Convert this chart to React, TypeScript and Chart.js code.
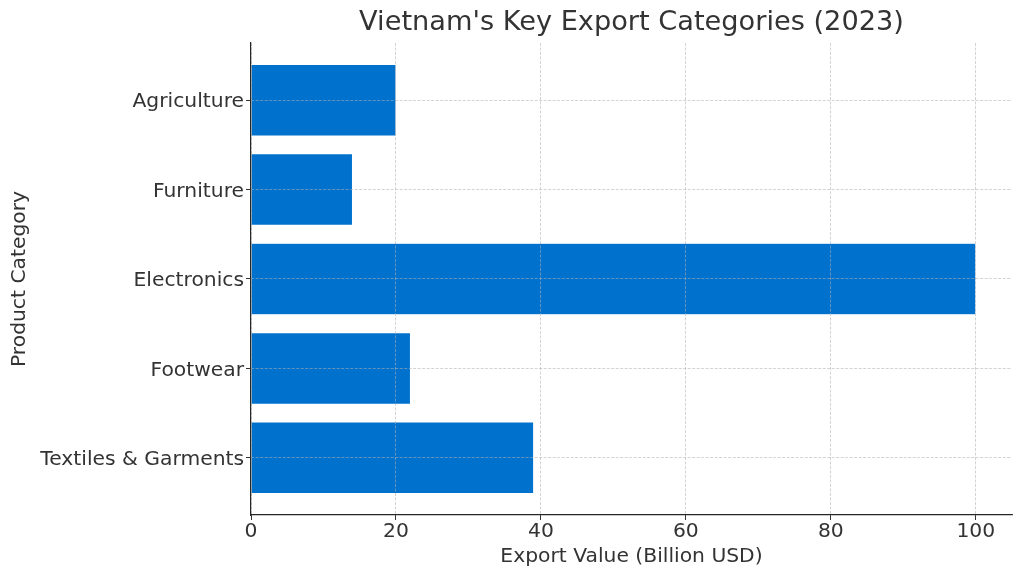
import React, { useEffect, useRef } from "react";
import { Chart, registerables } from "chart.js";

Chart.register(...registerables);

const categories = ["Textiles & Garments", "Footwear", "Electronics", "Furniture", "Agriculture"];
const exportValues = [39, 22, 100, 14, 20];
const xTicks = [0, 20, 40, 60, 80, 100];

const TITLE = "Vietnam's Key Export Categories (2023)";
const FONT = "'DejaVu Sans', sans-serif";
const TEXT = "#333333";
const GRID = "rgba(176,176,176,0.7)";

const titlePlugin = {
  id: "centerTitle",
  afterDraw(chart: any) {
    const { ctx, chartArea } = chart;
    ctx.save();
    ctx.font = `27.2px ${FONT}`;
    ctx.fillStyle = TEXT;
    ctx.textAlign = "center";
    ctx.textBaseline = "middle";
    ctx.fillText(TITLE, (chartArea.left + chartArea.right) / 2, 23);
    ctx.restore();
  },
};

export default function App() {
  const ref = useRef<HTMLCanvasElement | null>(null);
  useEffect(() => {
    if (!ref.current) return;
    const chart = new Chart(ref.current, {
      type: "bar",
      data: {
        datasets: [
          {
            data: exportValues.map((v, i) => ({ x: v, y: i })),
            backgroundColor: "#0072CE",
            borderColor: "rgba(255,255,255,0.5)",
            borderWidth: 0.5,
            barPercentage: 0.8,
            categoryPercentage: 1,
          },
        ],
      },
      options: {
        indexAxis: "y",
        animation: false,
        responsive: false,
        layout: { padding: { top: 43, right: 12, left: 0, bottom: 0 } },
        plugins: { legend: { display: false }, tooltip: { enabled: false }, title: { display: false } },
        scales: {
          x: {
            type: "linear",
            min: 0,
            max: 105,
            offset: false,
            afterFit: (s: any) => { s.height = 66; },
            afterBuildTicks: (s: any) => { s.ticks = xTicks.map((v) => ({ value: v })); },
            ticks: { font: { family: FONT, size: 20.3 }, color: TEXT, padding: 0, includeBounds: false, maxRotation: 0 },
            grid: { color: GRID, lineWidth: 0.8, offset: false, tickLength: 5, tickColor: TEXT, tickWidth: 1, z: 1 },
            border: { display: true, color: "#262626", width: 1.2, dash: [3, 1.5], z: 1 },
            title: { display: true, text: "Export Value (Billion USD)", font: { family: FONT, size: 20.3 }, color: TEXT, padding: { top: 0, bottom: 12 } },
          },
          y: {
            type: "linear",
            min: -0.64,
            max: 4.64,
            offset: false,
            afterFit: (s: any) => { s.width = 251; },
            afterBuildTicks: (s: any) => { s.ticks = categories.map((_, i) => ({ value: i })); },
            ticks: {
              font: { family: FONT, size: 20.3 },
              color: TEXT,
              padding: 2,
              labelOffset: 2,
              includeBounds: false,
              callback: (v: any) => categories[Math.round(Number(v))] ?? "",
            },
            grid: { color: GRID, lineWidth: 0.8, offset: false, tickLength: 5, tickColor: TEXT, tickWidth: 1, z: 1 },
            border: { display: true, color: "#262626", width: 1.2, dash: [3, 1.5], z: 1 },
            title: { display: true, text: "Product Category", font: { family: FONT, size: 20.3 }, color: TEXT, padding: { top: 8, bottom: 0 } },
          },
        },
      },
      plugins: [titlePlugin],
    } as any);
    return () => chart.destroy();
  }, []);
  return (
    <div style={{ position: "fixed", left: 0, top: 0, width: 1024, height: 581, background: "#fff" }}>
      <canvas ref={ref} width={1024} height={581} style={{ width: 1024, height: 581, display: "block" }} />
    </div>
  );
}
